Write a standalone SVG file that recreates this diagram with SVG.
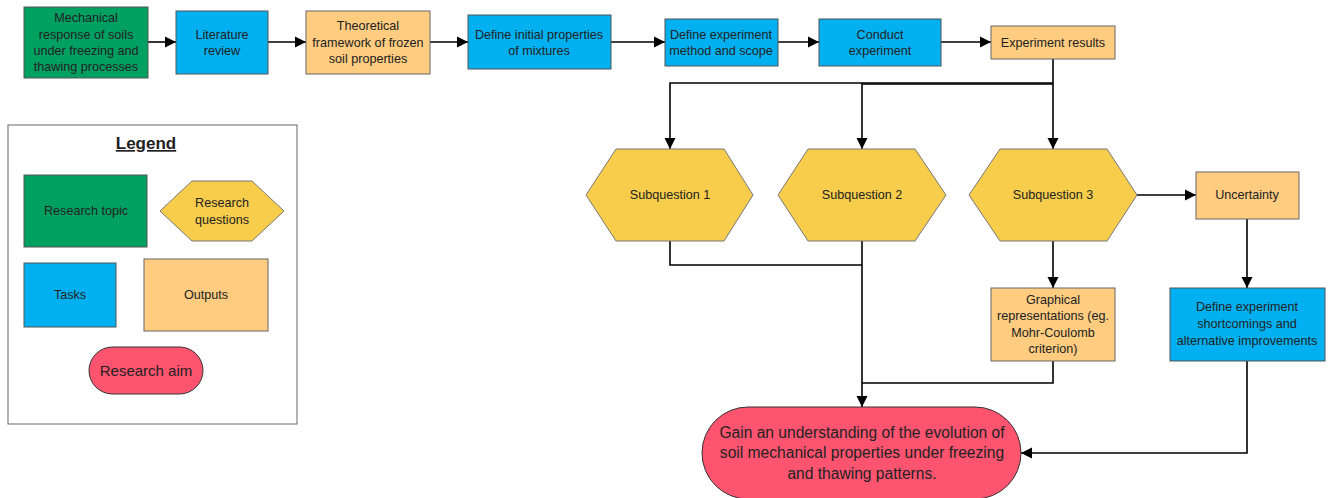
<svg xmlns="http://www.w3.org/2000/svg" width="1330" height="498" viewBox="0 0 1330 498">
<defs>
<marker id="arr" markerWidth="12" markerHeight="12" refX="11" refY="6" orient="auto" markerUnits="userSpaceOnUse">
<path d="M0,0.5 L11,6 L0,11.5 Z" fill="#000"/>
</marker>
<style>
.t{font-family:"Liberation Sans",Arial,sans-serif;font-size:12.6px;fill:#222;text-anchor:middle}
.big{font-size:15.6px}
.green{fill:#00A060;stroke:#555;stroke-width:1}
.blue{fill:#00B0F0;stroke:#555;stroke-width:1}
.org{fill:#FFCC80;stroke:#666;stroke-width:1}
.yel{fill:#F8CD4B;stroke:#777;stroke-width:1}
.pink{fill:#FF5470;stroke:#333;stroke-width:1}
.c{fill:none;stroke:#000;stroke-width:1.6}
</style>
</defs>
<rect width="1330" height="498" fill="#fff"/>

<g id="connectors">
<path class="c" d="M148,42 H176" marker-end="url(#arr)"/>
<path class="c" d="M268,42 H306" marker-end="url(#arr)"/>
<path class="c" d="M430,42 H468" marker-end="url(#arr)"/>
<path class="c" d="M611,42 H665" marker-end="url(#arr)"/>
<path class="c" d="M778,42 H819" marker-end="url(#arr)"/>
<path class="c" d="M941,42 H991" marker-end="url(#arr)"/>
<path class="c" d="M1053,59 V149" marker-end="url(#arr)"/>
<path class="c" d="M1053,83 H670 V149" marker-end="url(#arr)"/>
<path class="c" d="M1053,84 H862 V149" marker-end="url(#arr)"/>
<path class="c" d="M1137,195 H1196" marker-end="url(#arr)"/>
<path class="c" d="M1247,219 V288" marker-end="url(#arr)"/>
<path class="c" d="M1053,241 V288" marker-end="url(#arr)"/>
<path class="c" d="M670,241 V265 H862"/>
<path class="c" d="M862,241 V407" marker-end="url(#arr)"/>
<path class="c" d="M1053,361 V383 H862"/>
<path class="c" d="M1247,361 V453 H1021" marker-end="url(#arr)"/>
</g>

<g id="n1"><rect class="green" x="24" y="7" width="124" height="71"/>
<text class="t" x="86" y="22">Mechanical</text><text class="t" x="86" y="39">response of soils</text><text class="t" x="86" y="55">under freezing and</text><text class="t" x="86" y="71">thawing processes</text></g>
<g id="n2"><rect class="blue" x="176" y="11" width="92" height="63"/>
<text class="t" x="222" y="39">Literature</text><text class="t" x="222" y="55">review</text></g>
<g id="n3"><rect class="org" x="306" y="11" width="124" height="63"/>
<text class="t" x="368" y="30">Theoretical</text><text class="t" x="368" y="47">framework of frozen</text><text class="t" x="368" y="63">soil properties</text></g>
<g id="n4"><rect class="blue" x="468" y="15" width="143" height="54"/>
<text class="t" x="539" y="39">Define initial properties</text><text class="t" x="539" y="55">of mixtures</text></g>
<g id="n5"><rect class="blue" x="665" y="19" width="113" height="47"/>
<text class="t" x="721" y="39">Define experiment</text><text class="t" x="721" y="55">method and scope</text></g>
<g id="n6"><rect class="blue" x="819" y="19" width="122" height="47"/>
<text class="t" x="880" y="39">Conduct</text><text class="t" x="880" y="55">experiment</text></g>
<g id="n7"><rect class="org" x="991" y="26" width="124" height="33"/>
<text class="t" x="1053" y="47">Experiment results</text></g>

<g id="sq1"><polygon class="yel" points="586,195 616,149 724,149 753,195 724,241 616,241"/>
<text class="t" x="670" y="199">Subquestion 1</text></g>
<g id="sq2"><polygon class="yel" points="778,195 808,149 915,149 946,195 915,241 808,241"/>
<text class="t" x="862" y="199">Subquestion 2</text></g>
<g id="sq3"><polygon class="yel" points="969,195 1000,149 1107,149 1137,195 1107,241 1000,241"/>
<text class="t" x="1053" y="199">Subquestion 3</text></g>

<g id="unc"><rect class="org" x="1196" y="172" width="103" height="47"/>
<text class="t" x="1247" y="199">Uncertainty</text></g>
<g id="graph"><rect class="org" x="991" y="288" width="124" height="73"/>
<text class="t" x="1053" y="304">Graphical</text><text class="t" x="1053" y="320">representations (eg.</text><text class="t" x="1053" y="337">Mohr-Coulomb</text><text class="t" x="1053" y="353">criterion)</text></g>
<g id="def"><rect class="blue" x="1170" y="288" width="155" height="73"/>
<text class="t" x="1247" y="311">Define experiment</text><text class="t" x="1247" y="328">shortcomings and</text><text class="t" x="1247" y="345">alternative improvements</text></g>

<g id="aim"><rect class="pink" x="702" y="407" width="319" height="92" rx="46" ry="46"/>
<text class="t big" x="862" y="438">Gain an understanding of the evolution of</text><text class="t big" x="862" y="458">soil mechanical properties under freezing</text><text class="t big" x="862" y="479">and thawing patterns.</text></g>

<g id="legend"><rect x="8" y="125" width="289" height="299" fill="#fff" stroke="#666" stroke-width="1"/>
<text class="t" x="146" y="149" style="font-size:17px;font-weight:bold;text-decoration:underline">Legend</text>
<rect class="green" x="24" y="175" width="123" height="72"/>
<text class="t" x="86" y="215">Research topic</text>
<polygon class="yel" points="160,211 192,181 252,181 284,211 252,241 192,241"/>
<text class="t" x="222" y="207">Research</text><text class="t" x="222" y="224">questions</text>
<rect class="blue" x="24" y="263" width="92" height="64"/>
<text class="t" x="70" y="299">Tasks</text>
<rect class="org" x="144" y="259" width="124" height="72"/>
<text class="t" x="206" y="299">Outputs</text>
<rect class="pink" x="89" y="347" width="114" height="47" rx="23.5" ry="23.5"/>
<text class="t" x="146" y="376" style="font-size:15px">Research aim</text>
</g>
</svg>
